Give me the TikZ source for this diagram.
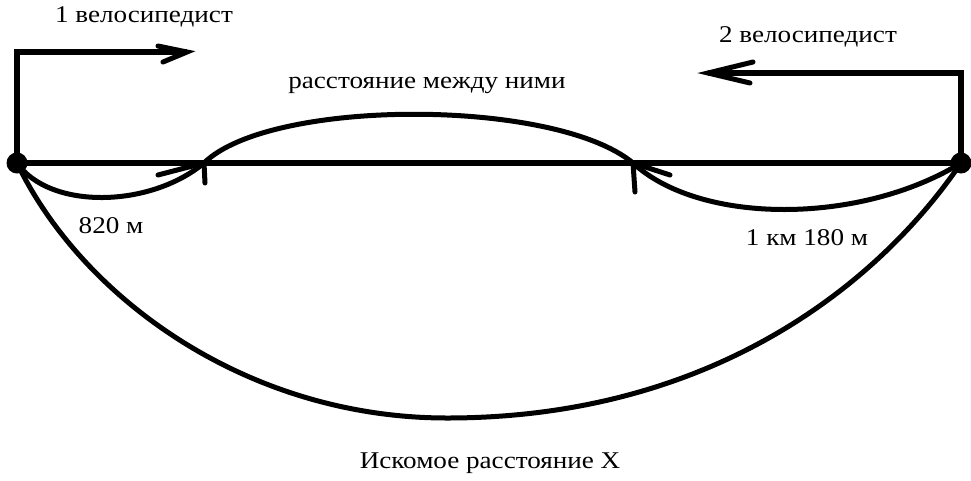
\documentclass[tikz,border=0pt]{standalone}
\usepackage{fontspec}
\setmainfont[FakeStretch=1.13]{Liberation Serif}
\begin{document}
\begin{tikzpicture}[x=1pt,y=-1pt,line width=5pt,
  lbl/.style={anchor=base,inner sep=0pt,font=\fontsize{24}{28}\selectfont},
  dotnode/.style={circle,fill=black,minimum size=21pt,inner sep=0pt},
  mainline/.style={line width=6pt},
  barb/.style={line width=5pt,line cap=round}]
\useasboundingbox (0,0) rectangle (971,480);
% end points
\node[dotnode] (A) at (17,163) {};
\node[dotnode] (B) at (961,163) {};
\coordinate (P) at (204,163);
\coordinate (Q) at (633,163);
\coordinate (C) at (447,418);
% main line
\draw[mainline] (A.center) -- (B.center);
% cyclist 1 bracket
\coordinate (A1) at (17,52);
\coordinate (A2) at (187,52);
\draw[mainline] (A.center) -- (A1) -- (A2);
\draw[barb] (158,46) -- (A2) -- (163,62);
% cyclist 2 bracket
\coordinate (B1) at (961,73);
\coordinate (B2) at (708,73);
\draw[mainline] (B.center) -- (B1) -- (B2);
\draw[barb] (753,62) -- (B2) -- (750,83);
% wave
\draw (A.center) .. controls (50,210) and (150,208) .. (P)
  .. controls (270,98) and (555,98) .. (Q)
  .. controls (700,225) and (860,225) .. (B.center);
\draw[barb] (158,175) -- (P) -- (205,183);
\draw[barb] (670,175) -- (Q) -- (635,192);
% big arc
\draw (A.center) .. controls (82,298) and (247,418) .. (C)
  .. controls (707,418) and (875,289) .. (B.center);
% labels
\node[lbl] (t1) at (144,22) {1 велосипедист};
\node[lbl] (t2) at (808,42) {2 велосипедист};
\node[lbl] (t3) at (427,88) {расстояние между ними};
\node[lbl] (t4) at (111,233) {820 м};
\node[lbl] (t5) at (807,245) {1 км 180 м};
\node[lbl] (t6) at (490,468) {Искомое расстояние Х};
\end{tikzpicture}
\end{document}
